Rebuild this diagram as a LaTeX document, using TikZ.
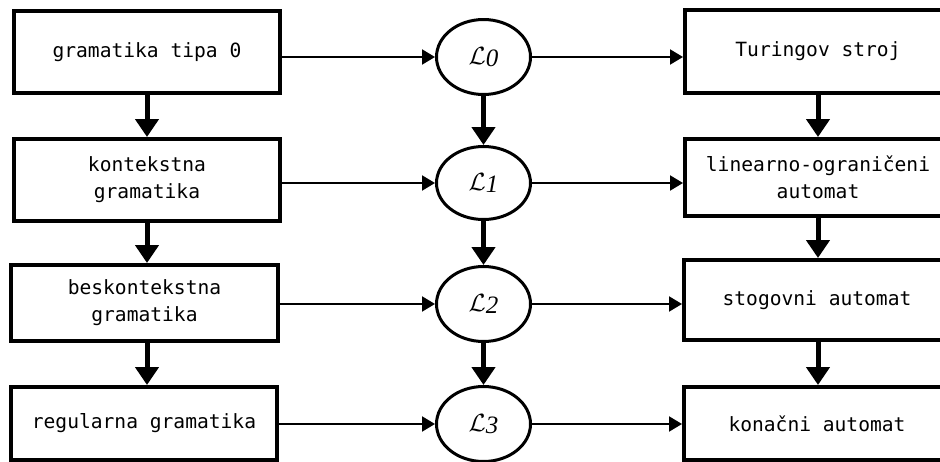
\documentclass[tikz,border=0pt]{standalone}
\usepackage{fontspec}
\setmonofont{DejaVu Sans Mono}
\newfontfamily\labelfont{Liberation Serif}
\usepackage{tikz}
\usetikzlibrary{shapes.geometric, arrows.meta, positioning}
\definecolor{mydark}{RGB}{0,0,0}
\definecolor{mybg}{RGB}{255,255,255}
\tikzset{
  gbox/.style={rectangle, draw=mydark, fill=mybg, line width=4pt,
    minimum width=266pt, inner sep=0pt, align=center,
    font=\fontsize{19.6}{27}\selectfont\ttfamily},
  langnode/.style={ellipse, draw=mydark, fill=mybg, line width=3pt,
    minimum width=94pt, minimum height=75pt, inner sep=0pt,
    font=\fontsize{25}{27}\selectfont},
  thinarrow/.style={-{Triangle[length=13pt,width=15pt]}, line width=2pt, color=mydark},
  fatarrow/.style={-{Triangle[length=18pt,width=23pt]}, line width=5pt, color=mydark}
}
\newcommand{\langL}[1]{\raisebox{-4pt}{$\mathcal{L}$\raisebox{-2pt}{\labelfont\itshape #1}}}

\begin{document}
\begin{tikzpicture}[x=1pt, y=-1pt]
  % picture frame, the outer boxes run over its edge
  \useasboundingbox (0,0) rectangle (940,461);
  \clip (0,0) rectangle (940,461);
  \fill[mybg] (0,0) rectangle (940,461);

  % Grammars (left column)
  \node[gbox, minimum height=82pt] (g0) at (147,52) {gramatika tipa 0};
  \node[gbox, minimum height=82pt] (g1) at (147,180) {kontekstna\\gramatika};
  \node[gbox, minimum height=76pt, minimum width=267pt] (g2) at (144.5,303) {beskontekstna\\gramatika};
  \node[gbox, minimum height=73pt] (g3) at (144,423.5) {regularna gramatika};

  % Languages (middle column)
  \node[langnode] (l0) at (483.5,57) {\langL{0}};
  \node[langnode, minimum height=73pt] (l1) at (483.5,183) {\langL{1}};
  \node[langnode] (l2) at (483.5,304) {\langL{2}};
  \node[langnode] (l3) at (483.5,424) {\langL{3}};

  % Automata (right column)
  \node[gbox, minimum height=83pt] (a0) at (818,51.5) {Turingov stroj};
  \node[gbox, minimum height=77pt] (a1) at (818,177.5) {linearno-ograničeni\\automat};
  \node[gbox, minimum height=80pt] (a2) at (817,300) {stogovni automat};
  \node[gbox, minimum height=73pt] (a3) at (817,423.5) {konačni automat};

  % Grammar -> language -> automaton
  \foreach \i in {0,1,2,3} {
    \draw[thinarrow] (g\i.east |- l\i.west) -- (l\i.west);
    \draw[thinarrow] (l\i.east) -- (l\i.east -| a\i.west);
  }

  % Inclusions down each column
  \draw[fatarrow] (g0.south) -- (g1.north);
  \draw[fatarrow] (g1.south) -- (g1.south |- g2.north);
  \draw[fatarrow] (g1.south |- g2.south) -- (g1.south |- g3.north);
  \draw[fatarrow] (l0.south) -- (l1.north);
  \draw[fatarrow] (l1.south) -- (l2.north);
  \draw[fatarrow] (l2.south) -- (l3.north);
  \draw[fatarrow] (a0.south) -- (a1.north);
  \draw[fatarrow] (a1.south) -- (a1.south |- a2.north);
  \draw[fatarrow] (a1.south |- a2.south) -- (a1.south |- a3.north);
\end{tikzpicture}
\end{document}
